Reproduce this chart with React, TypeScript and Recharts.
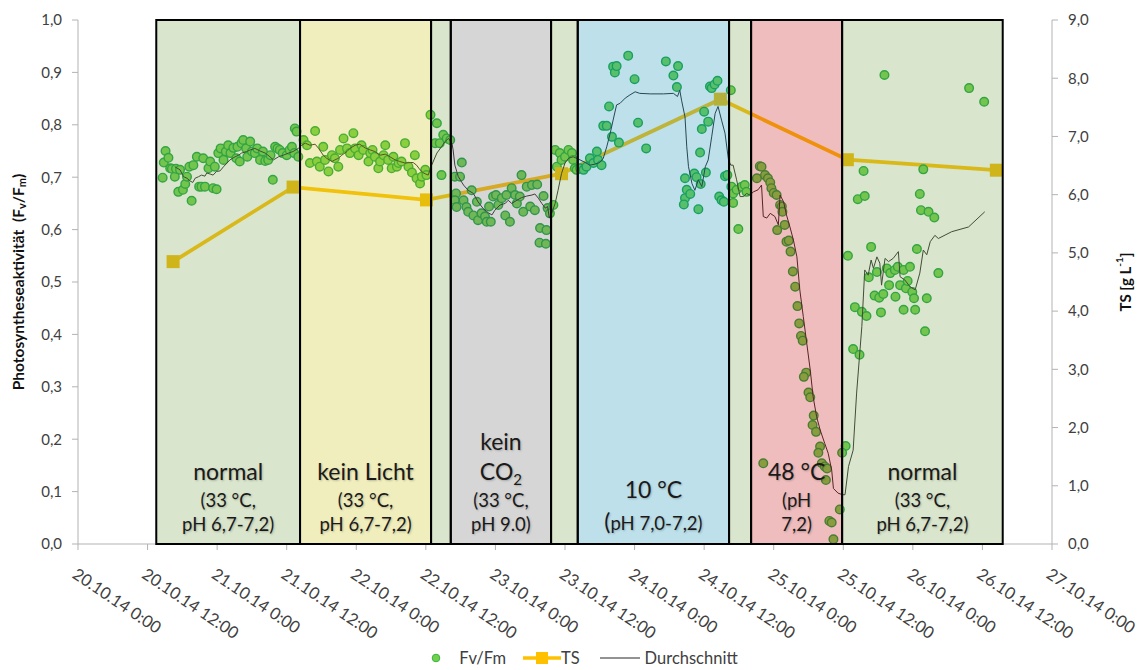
import { ComposedChart, Line, Scatter, XAxis, YAxis, ReferenceArea, Legend } from 'recharts';

const FONT = 'Lato, "Open Sans", sans-serif';
const AXIS_GREY = '#b3b3b3';
const TEXT = '#404040';

// Zeit in Stunden ab 20.10.14 0:00
const xTicks = [0, 12, 24, 36, 48, 60, 72, 84, 96, 108, 120, 132, 144, 156, 168];
const leftTicks = [0, 0.1, 0.2, 0.3, 0.4, 0.5, 0.6, 0.7, 0.8, 0.9, 1.0];
const rightTicks = [0, 1, 2, 3, 4, 5, 6, 7, 8, 9];

// Phasen: Grenzen (h) und Art
const phaseBounds = [13.5, 38.3, 60.9, 64.3, 81.6, 86.2, 112.3, 116.1, 131.8, 159.5];
const phaseKind = ['normal', 'dark', 'gap', 'co2', 'gap', 'cold', 'gap', 'hot', 'normal2'];

// Fv/Fm Messpunkte [h, Fv/Fm]
const fvfmNormal1 = [
  [14.6, 0.699], [14.8, 0.728], [15.1, 0.75], [15.6, 0.737], [15.9, 0.717], [16.2, 0.716], [16.7, 0.701],
  [16.9, 0.716], [17.3, 0.672], [17.6, 0.714], [18.1, 0.676], [18.5, 0.687], [18.8, 0.701], [19.2, 0.72],
  [19.6, 0.655], [19.9, 0.723], [20.5, 0.739], [20.9, 0.682], [21.3, 0.682], [21.6, 0.736], [21.9, 0.682],
  [22.5, 0.717], [22.8, 0.73], [23.3, 0.679], [23.6, 0.72], [23.9, 0.677], [24.2, 0.746], [24.6, 0.755],
  [25.1, 0.733], [25.5, 0.749], [25.9, 0.761], [26.3, 0.746], [26.8, 0.756], [27.3, 0.736], [27.5, 0.758],
  [27.9, 0.73], [28.2, 0.765], [28.5, 0.771], [29.0, 0.755], [29.2, 0.739], [29.7, 0.768], [30.0, 0.749],
  [30.5, 0.746], [30.9, 0.755], [31.4, 0.733], [31.9, 0.749], [32.3, 0.731], [32.8, 0.733], [33.2, 0.742],
  [33.6, 0.695], [34.0, 0.758], [34.4, 0.755], [34.8, 0.752], [35.3, 0.746], [36.0, 0.742], [36.5, 0.752],
  [36.9, 0.758], [37.3, 0.746], [37.4, 0.793], [37.7, 0.787], [38.0, 0.739],
];
const fvfmKeinLicht = [
  [38.9, 0.771], [39.5, 0.761], [40.0, 0.727], [40.9, 0.788], [41.2, 0.73], [41.7, 0.72], [42.3, 0.758],
  [42.6, 0.733], [43.2, 0.711], [43.8, 0.742], [44.3, 0.736], [44.9, 0.72], [45.2, 0.752], [45.8, 0.774],
  [46.4, 0.755], [46.9, 0.746], [47.5, 0.784], [47.8, 0.755], [48.4, 0.742], [48.9, 0.761], [49.2, 0.752],
  [50.1, 0.73], [50.4, 0.746], [50.8, 0.752], [51.2, 0.739], [51.8, 0.717], [52.1, 0.73], [52.7, 0.742],
  [53.0, 0.761], [53.5, 0.733], [54.1, 0.717], [54.4, 0.739], [55.0, 0.72], [55.3, 0.727], [55.8, 0.73],
  [56.4, 0.765], [57.0, 0.72], [57.6, 0.709], [58.1, 0.742], [58.4, 0.698], [59.0, 0.688], [59.3, 0.701],
  [59.9, 0.714], [60.1, 0.704],
];
const fvfmPause1 = [
  [60.8, 0.819], [61.6, 0.765], [61.9, 0.803], [62.4, 0.765], [62.7, 0.704], [63.0, 0.781], [63.6, 0.774], [64.2, 0.771],
];
const fvfmKeinCO2 = [
  [65.0, 0.701], [65.2, 0.669], [65.0, 0.656], [65.3, 0.643], [65.9, 0.701], [66.2, 0.728], [66.5, 0.656],
  [67.0, 0.643], [67.3, 0.634], [67.9, 0.675], [68.2, 0.627], [68.8, 0.653], [69.0, 0.618], [69.6, 0.631],
  [70.2, 0.625], [70.5, 0.615], [70.9, 0.644], [71.2, 0.615], [71.6, 0.663], [72.1, 0.666], [72.5, 0.647],
  [73.1, 0.66], [73.7, 0.627], [73.9, 0.666], [74.5, 0.615], [74.8, 0.679], [75.4, 0.666], [75.7, 0.65],
  [76.2, 0.663], [76.5, 0.704], [76.8, 0.634], [77.4, 0.682], [78.0, 0.644], [78.3, 0.685], [78.8, 0.637],
  [79.2, 0.686], [79.7, 0.603], [80.3, 0.664], [79.6, 0.575], [80.7, 0.573], [80.8, 0.599], [81.0, 0.641],
  [81.4, 0.631],
];
const fvfmPause2 = [
  [82.0, 0.647], [82.3, 0.752], [82.6, 0.72], [83.1, 0.746], [83.4, 0.733], [84.0, 0.739], [84.6, 0.752],
  [85.2, 0.746], [85.4, 0.733], [85.7, 0.717],
];
const fvfmKalt = [
  [86.0, 0.714], [86.6, 0.717], [87.2, 0.714], [87.7, 0.72], [88.3, 0.736], [88.9, 0.727], [89.5, 0.749],
  [89.7, 0.733], [90.3, 0.723], [90.6, 0.798], [91.2, 0.798], [91.6, 0.835], [92.1, 0.777], [92.3, 0.911],
  [92.6, 0.9], [92.9, 0.912], [93.3, 0.766], [94.9, 0.932], [96.0, 0.887], [96.6, 0.804], [98.0, 0.755],
  [101.4, 0.921], [102.7, 0.894], [103.5, 0.912], [103.3, 0.872], [104.7, 0.698], [105.0, 0.676],
  [104.7, 0.66], [104.5, 0.648], [105.6, 0.668], [106.3, 0.707], [106.7, 0.7], [107.0, 0.639], [107.3, 0.747],
  [107.4, 0.687], [107.6, 0.792], [108.0, 0.825], [108.3, 0.709], [108.7, 0.806], [109.0, 0.873],
  [109.3, 0.87], [109.8, 0.877], [110.3, 0.884], [110.6, 0.663], [111.0, 0.656], [111.4, 0.653],
  [111.6, 0.702], [112.0, 0.704],
];
const fvfmPause3 = [
  [112.6, 0.866], [112.7, 0.682], [113.0, 0.669], [113.0, 0.651], [113.6, 0.676], [113.9, 0.601],
  [114.5, 0.682], [115.0, 0.685], [115.3, 0.672],
];
const fvfmHeiss = [
  [117.1, 0.698], [117.6, 0.721], [117.9, 0.72], [118.5, 0.704], [119.0, 0.698], [119.4, 0.69], [119.6, 0.679],
  [120.0, 0.67], [120.5, 0.666], [121.1, 0.647], [121.4, 0.644], [121.5, 0.634], [120.6, 0.599], [121.9, 0.609],
  [122.2, 0.577], [122.6, 0.579], [122.9, 0.558], [123.3, 0.52], [123.7, 0.491], [124.1, 0.454], [124.4, 0.421],
  [124.7, 0.397], [125.0, 0.388], [125.6, 0.327], [125.2, 0.319], [126.0, 0.289], [126.3, 0.28], [126.9, 0.245],
  [126.7, 0.227], [127.3, 0.214], [128.0, 0.186], [127.7, 0.174], [128.3, 0.154], [128.8, 0.148],
  [129.2, 0.144], [129.0, 0.122], [118.2, 0.154], [129.6, 0.044], [130.0, 0.041], [130.3, 0.009], [131.4, 0.066],
];
const fvfmNormal2 = [
  [132.4, 0.187], [131.8, 0.174], [139.1, 0.895], [153.7, 0.87], [156.3, 0.844], [135.5, 0.712], [145.8, 0.715],
  [134.5, 0.658], [135.7, 0.664], [145.2, 0.668], [145.4, 0.637], [146.7, 0.634], [147.7, 0.623], [132.8, 0.55],
  [136.8, 0.567], [144.7, 0.563], [148.4, 0.517], [136.4, 0.509], [137.8, 0.519], [139.5, 0.526], [140.1, 0.517],
  [140.9, 0.523], [141.4, 0.529], [142.4, 0.523], [143.5, 0.529], [139.9, 0.494], [141.8, 0.494], [142.8, 0.488],
  [143.1, 0.502], [143.9, 0.481], [144.2, 0.469], [146.4, 0.469], [137.4, 0.474], [138.2, 0.47], [138.9, 0.477],
  [141.0, 0.472], [134.0, 0.452], [135.2, 0.443], [136.0, 0.435], [138.5, 0.442], [142.4, 0.447], [144.4, 0.447],
  [146.1, 0.406], [133.7, 0.372], [134.8, 0.361],
];

// Gleitender Durchschnitt [h, Fv/Fm]
const avgSeries = [
  [16.7, 0.72], [17.6, 0.714], [18.2, 0.701], [18.8, 0.698], [19.3, 0.693], [19.8, 0.69], [20.2, 0.698],
  [20.8, 0.701], [21.3, 0.704], [21.9, 0.702], [22.2, 0.708], [22.8, 0.706], [23.3, 0.704], [23.9, 0.711],
  [24.5, 0.712], [25.1, 0.72], [25.7, 0.727], [26.2, 0.733], [27.1, 0.739], [27.7, 0.742], [28.2, 0.746],
  [29.1, 0.749], [29.7, 0.752], [30.5, 0.755], [31.4, 0.75], [32.3, 0.746], [33.1, 0.739], [33.7, 0.733],
  [34.6, 0.739], [35.4, 0.742], [36.3, 0.746], [37.1, 0.749], [38.0, 0.755], [38.6, 0.761], [39.2, 0.765],
  [40.0, 0.761], [40.9, 0.763], [41.5, 0.755], [42.3, 0.742], [42.9, 0.736], [43.8, 0.73], [44.3, 0.733],
  [44.9, 0.736], [45.5, 0.742], [46.4, 0.749], [46.9, 0.755], [47.8, 0.761], [48.6, 0.763], [49.5, 0.756],
  [50.4, 0.752], [51.2, 0.749], [52.1, 0.742], [53.0, 0.744], [53.8, 0.739], [54.7, 0.733], [55.5, 0.73],
  [56.4, 0.727], [57.3, 0.728], [57.8, 0.728], [58.4, 0.723], [59.0, 0.714], [59.6, 0.708], [60.4, 0.704],
  [61.0, 0.723], [61.9, 0.746], [62.7, 0.758], [63.3, 0.768], [63.9, 0.774], [64.5, 0.765], [64.7, 0.752],
  [65.0, 0.723], [65.6, 0.701], [66.5, 0.685], [67.3, 0.675], [68.2, 0.669], [69.0, 0.653], [69.9, 0.64],
  [70.8, 0.632], [71.4, 0.628], [71.9, 0.637], [72.8, 0.647], [73.7, 0.65], [74.2, 0.656], [74.8, 0.65],
  [75.7, 0.656], [76.5, 0.661], [77.4, 0.664], [78.3, 0.666], [78.8, 0.668], [79.4, 0.66], [80.0, 0.65],
  [80.6, 0.641], [81.0, 0.644], [81.3, 0.622], [81.7, 0.631], [82.3, 0.65], [82.8, 0.675], [83.4, 0.707],
  [84.0, 0.727], [84.6, 0.736], [85.4, 0.739], [86.0, 0.736], [86.6, 0.733], [87.5, 0.728], [88.3, 0.723],
  [89.2, 0.725], [90.0, 0.728], [90.6, 0.736], [91.2, 0.758], [91.8, 0.784], [92.3, 0.809], [92.9, 0.838],
  [93.5, 0.841], [94.4, 0.851], [95.2, 0.857], [96.1, 0.863], [96.9, 0.86], [98.7, 0.859], [101.0, 0.859],
  [102.7, 0.86], [103.4, 0.854], [103.8, 0.866], [104.1, 0.847], [104.7, 0.815], [105.0, 0.758], [105.3, 0.72],
  [105.9, 0.688], [106.4, 0.675], [107.0, 0.695], [107.6, 0.682], [108.2, 0.72], [108.7, 0.733], [109.3, 0.777],
  [109.9, 0.822], [110.4, 0.835], [111.0, 0.809], [111.6, 0.784], [112.2, 0.733], [112.6, 0.723], [113.0, 0.723],
  [113.6, 0.695], [114.2, 0.663], [114.8, 0.663], [115.3, 0.669], [115.9, 0.666], [116.5, 0.672], [117.3, 0.676],
  [117.9, 0.685], [118.2, 0.625], [118.8, 0.622], [119.4, 0.631], [120.2, 0.625], [120.8, 0.609], [121.1, 0.666],
  [121.7, 0.653], [122.2, 0.628], [122.8, 0.605], [123.4, 0.58], [124.0, 0.548], [124.5, 0.485], [125.1, 0.434],
  [125.7, 0.383], [126.3, 0.332], [126.8, 0.281], [127.4, 0.243], [128.0, 0.218], [128.8, 0.192], [129.4, 0.173],
  [130.0, 0.141], [130.3, 0.106], [131.1, 0.097], [131.9, 0.094], [132.3, 0.094], [132.9, 0.148], [133.7, 0.179],
  [134.3, 0.288], [135.2, 0.415], [135.7, 0.523], [136.3, 0.513], [136.8, 0.542], [137.2, 0.526], [137.8, 0.548],
  [138.3, 0.536], [138.6, 0.494], [139.2, 0.545], [139.8, 0.539], [140.6, 0.545], [141.5, 0.558], [141.8, 0.51],
  [142.6, 0.504], [143.5, 0.491], [144.4, 0.485], [145.2, 0.517], [145.8, 0.561], [146.4, 0.552], [147.0, 0.577],
  [147.8, 0.589], [148.4, 0.583], [150.7, 0.596], [153.6, 0.605], [156.4, 0.634],
];

// Trockensubstanz TS [g/L]
const tsTime = [16.4, 37.1, 60.1, 83.4, 110.8, 132.7, 158.4];
const tsValue = [4.85, 6.13, 5.91, 6.36, 7.64, 6.6, 6.42];

const phaseFill: Record<string, string> = {
  normal: 'rgb(128,168,85)',
  normal2: 'rgb(128,168,85)',
  gap: 'rgb(128,168,85)',
  dark: 'rgb(205,198,38)',
  co2: 'rgb(118,118,118)',
  cold: 'rgb(38,152,188)',
  hot: 'rgb(202,35,35)',
};

const fvfmData = [
  ...fvfmNormal1, ...fvfmKeinLicht, ...fvfmPause1, ...fvfmKeinCO2, ...fvfmPause2,
  ...fvfmKalt, ...fvfmPause3, ...fvfmHeiss, ...fvfmNormal2,
].map(([h, v]) => ({ h, fv: v }));
const avgData = avgSeries.map(([h, v]) => ({ h, avg: v }));
const tsData = tsTime.map((h, i) => ({ h, ts: tsValue[i] }));

const fmtDate = (h: number) => {
  const day = 20 + Math.floor(h / 24);
  const hour = h % 24;
  return `${day}.10.14 ${hour}:00`;
};
const fmtComma = (v: number) => v.toFixed(1).replace('.', ',');

const shadow = { textShadow: '1px 1px 2px rgba(0,0,0,0.22)' };

const BandLabel = ({ viewBox, kind }: any) => {
  if (!viewBox) return null;
  const cx = viewBox.x + viewBox.width / 2;
  const b = viewBox.y + viewBox.height;
  const big = { fontSize: 23, fill: '#1a1a1a', fontFamily: FONT, textAnchor: 'middle' as const, style: shadow };
  const small = { fontSize: 18.5, fill: '#1a1a1a', fontFamily: FONT, textAnchor: 'middle' as const, style: shadow };
  if (kind === 'normal' || kind === 'normal2' || kind === 'dark') {
    return (
      <g>
        <text x={cx} y={b - 64} {...big}>{kind === 'dark' ? 'kein Licht' : 'normal'}</text>
        <text x={cx} y={b - 37} {...small}>(33 °C,</text>
        <text x={cx} y={b - 13} {...small}>pH 6,7-7,2)</text>
      </g>
    );
  }
  if (kind === 'co2') {
    return (
      <g>
        <text x={cx} y={b - 94} {...big}>kein</text>
        <text x={cx} y={b - 64} {...big}>CO<tspan fontSize={15} dy={5}>2</tspan></text>
        <text x={cx} y={b - 37} {...small}>(33 °C,</text>
        <text x={cx} y={b - 13} {...small}>pH 9.0)</text>
      </g>
    );
  }
  if (kind === 'cold') {
    return (
      <g>
        <text x={cx} y={b - 46} {...big}>10 °C</text>
        <text x={cx} y={b - 14} {...small}><tspan fontSize={23}>(</tspan>pH 7,0-7,2)</text>
      </g>
    );
  }
  if (kind === 'hot') {
    return (
      <g>
        <text x={cx} y={b - 64} {...big}>48 °C</text>
        <text x={cx} y={b - 37} {...small}>(pH</text>
        <text x={cx} y={b - 13} {...small}>7,2)</text>
      </g>
    );
  }
  return null;
};

const XTick = ({ x, y, payload }: any) => (
  <g transform={`translate(${x},${y + 17})`}>
    <text x={0} y={0} dy={12} transform="rotate(34)" textAnchor="start" fill={TEXT} fontSize={16.5} fontFamily={FONT}>
      {fmtDate(payload.value)}
    </text>
  </g>
);

const LeftTitle = ({ viewBox }: any) => {
  const cx = 10;
  const cy = viewBox.y + viewBox.height / 2;
  return (
    <text x={cx} y={cy} transform={`rotate(-90 ${cx} ${cy})`} textAnchor="middle" dominantBaseline="central"
      fontFamily={FONT} fontSize={15.5} fontWeight="bold" fill="#111">
      Photosyntheseaktivität{'\u00a0\u00a0'}(F<tspan fontSize={11} dy={3}>v</tspan>
      <tspan dy={-3}>/F</tspan><tspan fontSize={11} dy={3}>m</tspan><tspan dy={-3}>)</tspan>
    </text>
  );
};

const RightTitle = ({ viewBox }: any) => {
  const cx = viewBox.x + 73;
  const cy = viewBox.y + viewBox.height / 2;
  return (
    <text x={cx} y={cy} transform={`rotate(-90 ${cx} ${cy})`} textAnchor="middle" dominantBaseline="central"
      fontFamily={FONT} fontSize={15} fontWeight="bold" fill="#111">
      TS [g L<tspan fontSize={10} dy={-6}>-1</tspan><tspan dy={6}>]</tspan>
    </text>
  );
};

const LegendBox = () => (
  <div style={{ display: 'flex', justifyContent: 'center', alignItems: 'center', height: 20, fontFamily: FONT, fontSize: 16.5, color: TEXT, paddingLeft: 20 }}>
    <svg width={22} height={14}><circle cx={7} cy={7} r={3.8} fill="#6fd24a" stroke="#3cb043" strokeWidth={1} /></svg>
    <span style={{ marginLeft: 8 }}>Fv/Fm</span>
    <svg width={38} height={14} style={{ marginLeft: 17 }}>
      <line x1={0} x2={38} y1={7} y2={7} stroke="#ffc000" strokeWidth={3.5} />
      <rect x={13} y={1} width={12} height={12} fill="#ffc000" />
    </svg>
    <span>TS</span>
    <svg width={40} height={14} style={{ marginLeft: 20 }}>
      <line x1={0} x2={40} y1={7} y2={7} stroke="#262626" strokeWidth={1} />
    </svg>
    <span style={{ marginLeft: 5 }}>Durchschnitt</span>
  </div>
);

const Dot = (p: any) => (
  <circle cx={p.cx} cy={p.cy} r={4.3} fill="#6fd24a" stroke="#12a33a" strokeWidth={1.4} />
);

const Square = (p: any) => {
  if (p.cx == null || p.cy == null) return null;
  return <rect key={p.index} x={p.cx - 6.5} y={p.cy - 6.5} width={13} height={13} fill="#f2bb00" />;
};

export default function App() {
  const bands = phaseKind.map((kind, i) => ({ kind, from: phaseBounds[i], to: phaseBounds[i + 1] }));
  return (
    <div style={{ width: 1131, height: 660, fontFamily: FONT }}>
      <ComposedChart width={1131} height={660} margin={{ top: 12, right: 0, bottom: 0, left: 0 }}>
        <XAxis
          dataKey="h" type="number" domain={[0, 168]} ticks={xTicks} interval={0} allowDataOverflow
          stroke={AXIS_GREY} tickSize={6} tickMargin={0} height={104} tick={<XTick />}
        />
        <YAxis
          yAxisId="l" domain={[0, 1]} ticks={leftTicks} width={70} stroke={AXIS_GREY} tickSize={6} tickMargin={10}
          tickFormatter={fmtComma} tick={{ fill: TEXT, fontSize: 15, fontFamily: FONT }} label={(p: any) => <LeftTitle {...p} />}
        />
        <YAxis
          yAxisId="r" orientation="right" domain={[0, 9]} ticks={rightTicks} width={87} stroke={AXIS_GREY} tickSize={6}
          tickMargin={10} tickFormatter={fmtComma} tick={{ fill: TEXT, fontSize: 15, fontFamily: FONT }}
          label={(p: any) => <RightTitle {...p} />}
        />
        <Line
          yAxisId="r" data={tsData} dataKey="ts" name="TS" stroke="#ffc000" strokeWidth={3.8}
          dot={<Square />} activeDot={false} isAnimationActive={false}
        />
        <Scatter yAxisId="l" data={fvfmData} dataKey="fv" name="Fv/Fm" shape={<Dot />} isAnimationActive={false} />
        <Line
          yAxisId="l" data={avgData} dataKey="avg" name="Durchschnitt" stroke="#262626" strokeWidth={1}
          dot={false} activeDot={false} isAnimationActive={false} zIndex={650}
        />
        {bands.map((b) => (
          <ReferenceArea
            key={b.from} yAxisId="l" x1={b.from} x2={b.to} y1={0} y2={1} fill={phaseFill[b.kind]} fillOpacity={0.3}
            stroke="#000" strokeWidth={2} strokeOpacity={1} zIndex={700} ifOverflow="visible"
            label={(p: any) => <BandLabel viewBox={p.viewBox} kind={b.kind} />}
          />
        ))}
        <Legend verticalAlign="bottom" content={() => <LegendBox />} />
      </ComposedChart>
    </div>
  );
}
